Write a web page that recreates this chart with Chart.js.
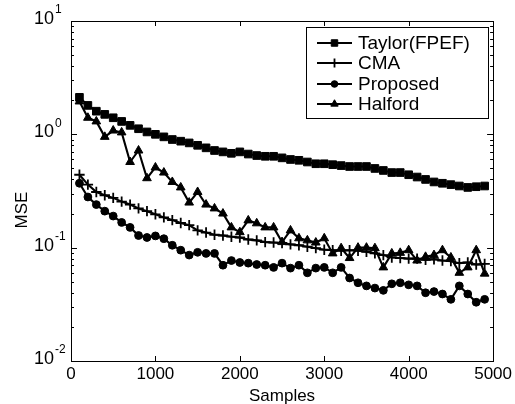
<!DOCTYPE html>
<html>
<head>
<meta charset="utf-8">
<script src="https://cdn.jsdelivr.net/npm/chart.js@4.4.1/dist/chart.umd.min.js"></script>
<style>
  html, body { margin: 0; padding: 0; background: #fff; }
  canvas { display: block; }
</style>
</head>
<body>
<canvas id="c" width="515" height="404"></canvas>
<script>
const samples = [100,200,300,400,500,600,700,800,900,1000,1100,1200,1300,1400,1500,1600,1700,1800,1900,2000,2100,2200,2300,2400,2500,2600,2700,2800,2900,3000,3100,3200,3300,3400,3500,3600,3700,3800,3900,4000,4100,4200,4300,4400,4500,4600,4700,4800,4900];
const taylor = [2.12,1.8,1.6,1.5,1.4,1.3,1.2,1.12,1.05,1.0,0.95,0.9,0.87,0.84,0.8,0.76,0.72,0.7,0.68,0.7,0.67,0.65,0.64,0.64,0.62,0.6,0.59,0.57,0.55,0.55,0.54,0.53,0.52,0.52,0.52,0.5,0.48,0.46,0.46,0.44,0.42,0.4,0.38,0.37,0.36,0.35,0.34,0.345,0.35];
const cma = [0.44,0.36,0.31,0.29,0.275,0.255,0.24,0.222,0.21,0.197,0.185,0.175,0.165,0.158,0.142,0.136,0.13,0.128,0.125,0.123,0.118,0.116,0.112,0.111,0.11,0.107,0.105,0.102,0.099,0.096,0.095,0.094,0.095,0.094,0.092,0.089,0.086,0.082,0.081,0.08,0.08,0.078,0.079,0.077,0.076,0.073,0.074,0.071,0.072];
const proposed = [0.37,0.28,0.24,0.21,0.19,0.167,0.151,0.128,0.123,0.127,0.12,0.105,0.095,0.086,0.091,0.089,0.089,0.07,0.077,0.074,0.073,0.071,0.07,0.067,0.073,0.066,0.07,0.06,0.066,0.067,0.06,0.067,0.054,0.049,0.046,0.044,0.042,0.048,0.049,0.047,0.046,0.04,0.041,0.039,0.035,0.046,0.039,0.033,0.035];
const halford = [1.95,1.4,1.3,0.95,1.08,1.04,0.57,0.72,0.41,0.51,0.46,0.38,0.34,0.25,0.31,0.24,0.222,0.2,0.151,0.137,0.174,0.164,0.151,0.151,0.112,0.142,0.121,0.116,0.111,0.121,0.089,0.099,0.081,0.1,0.1,0.099,0.067,0.089,0.09,0.095,0.077,0.083,0.086,0.095,0.082,0.06,0.067,0.095,0.059];
const seriesNames = ['Taylor(FPEF)','CMA','Proposed','Halford'];
const xTickValues = [0,1000,2000,3000,4000,5000];
const yDecades = [-2,-1,0,1];

const toXY = arr => arr.map((v, i) => ({x: samples[i], y: v}));

const styles = [
  {pointStyle: 'rect', pointRadius: 5.4, pointBorderWidth: 1},
  {pointStyle: 'cross', pointRadius: 5.2, pointBorderWidth: 1.8},
  {pointStyle: 'circle', pointRadius: 3.9, pointBorderWidth: 1},
  {pointStyle: 'triangle', pointRadius: 5, pointBorderWidth: 1}
];
const seriesData = [taylor, cma, proposed, halford];

const datasets = seriesData.map((arr, i) => ({
  label: seriesNames[i],
  data: toXY(arr),
  borderColor: '#000',
  backgroundColor: '#000',
  pointBackgroundColor: '#000',
  pointBorderColor: '#000',
  borderWidth: 2.1,
  fill: false,
  tension: 0,
  pointStyle: styles[i].pointStyle,
  pointRadius: styles[i].pointRadius,
  pointBorderWidth: styles[i].pointBorderWidth,
  pointHoverRadius: styles[i].pointRadius
}));

const FONT = "'Liberation Sans', Arial, Helvetica, sans-serif";

const framePlugin = {
  id: 'frame',
  afterDraw(chart) {
    const {ctx, chartArea: a, scales: {x, y}} = chart;
    ctx.save();
    ctx.strokeStyle = '#000';
    ctx.lineWidth = 1;
    ctx.strokeRect(Math.round(a.left) + 0.5, Math.round(a.top) + 0.5,
                   Math.round(a.right - a.left), Math.round(a.bottom - a.top));
    const line = (x1, y1, x2, y2) => { ctx.beginPath(); ctx.moveTo(x1, y1); ctx.lineTo(x2, y2); ctx.stroke(); };
    for (let k = yDecades[0]; k < yDecades[yDecades.length - 1]; k++) {
      for (let m = 1; m <= 9; m++) {
        const py = Math.round(y.getPixelForValue(m * Math.pow(10, k))) + 0.5;
        const len = m === 1 ? 6 : 3;
        line(a.left, py, a.left + len, py);
        line(a.right, py, a.right - len, py);
      }
    }
    xTickValues.forEach(v => {
      const px = Math.round(x.getPixelForValue(v)) + 0.5;
      line(px, a.bottom, px, a.bottom - 5);
      line(px, a.top, px, a.top + 5);
    });
    ctx.fillStyle = '#000';
    yDecades.forEach(k => {
      const py = y.getPixelForValue(Math.pow(10, k));
      ctx.font = '18px ' + FONT;
      ctx.textAlign = 'right';
      ctx.textBaseline = 'middle';
      ctx.fillText('10', 54, py - 2);
      ctx.font = '12px ' + FONT;
      ctx.textAlign = 'left';
      ctx.fillText(String(k), 55, py - 11);
    });
    ctx.font = '17px ' + FONT;
    ctx.textAlign = 'center';
    ctx.textBaseline = 'middle';
    ctx.fillText('Samples', (a.left + a.right) / 2, 396);
    ctx.save();
    ctx.translate(22, 210);
    ctx.rotate(-Math.PI / 2);
    ctx.fillText('MSE', 0, 0);
    ctx.restore();

    const lx = 306, ly = 27, lw = 182, lh = 91;
    ctx.fillStyle = '#fff';
    ctx.fillRect(lx, ly, lw, lh);
    ctx.lineWidth = 1;
    ctx.strokeRect(lx + 0.5, ly + 0.5, lw, lh);
    const rowY = [43, 63, 84, 104];
    chart.data.datasets.forEach((ds, i) => {
      const yy = rowY[i];
      ctx.strokeStyle = '#000';
      ctx.lineWidth = 2;
      line(317, yy, 352, yy);
      ctx.lineWidth = ds.pointBorderWidth;
      ctx.fillStyle = '#000';
      Chart.helpers.drawPoint(ctx, {pointStyle: ds.pointStyle, radius: ds.pointRadius * 0.85, rotation: 0, borderWidth: ds.pointBorderWidth}, 334.5, yy);
      ctx.fillStyle = '#000';
      ctx.font = '19px ' + FONT;
      ctx.textAlign = 'left';
      ctx.textBaseline = 'middle';
      ctx.fillText(ds.label, 358, yy + 1);
    });
    ctx.restore();
  }
};

new Chart(document.getElementById('c'), {
  type: 'line',
  data: { datasets },
  options: {
    responsive: false,
    animation: false,
    devicePixelRatio: 1,
    layout: { padding: { top: 21, right: 20, left: 0, bottom: 0 } },
    plugins: { legend: { display: false }, tooltip: { enabled: false } },
    scales: {
      x: {
        type: 'linear',
        min: 0, max: 5000,
        afterBuildTicks: s => { s.ticks = xTickValues.map(v => ({value: v})); },
        ticks: { color: '#000', font: { size: 17, family: FONT }, padding: 3, maxRotation: 0, autoSkip: false,
                 callback: v => String(v) },
        grid: { display: false, drawTicks: false },
        border: { display: false },
        afterFit: s => { s.height = 43; }
      },
      y: {
        type: 'logarithmic',
        min: 0.01, max: 10,
        ticks: { display: false },
        grid: { display: false, drawTicks: false },
        border: { display: false },
        afterFit: s => { s.width = 71; }
      }
    }
  },
  plugins: [framePlugin]
});
</script>
</body>
</html>
